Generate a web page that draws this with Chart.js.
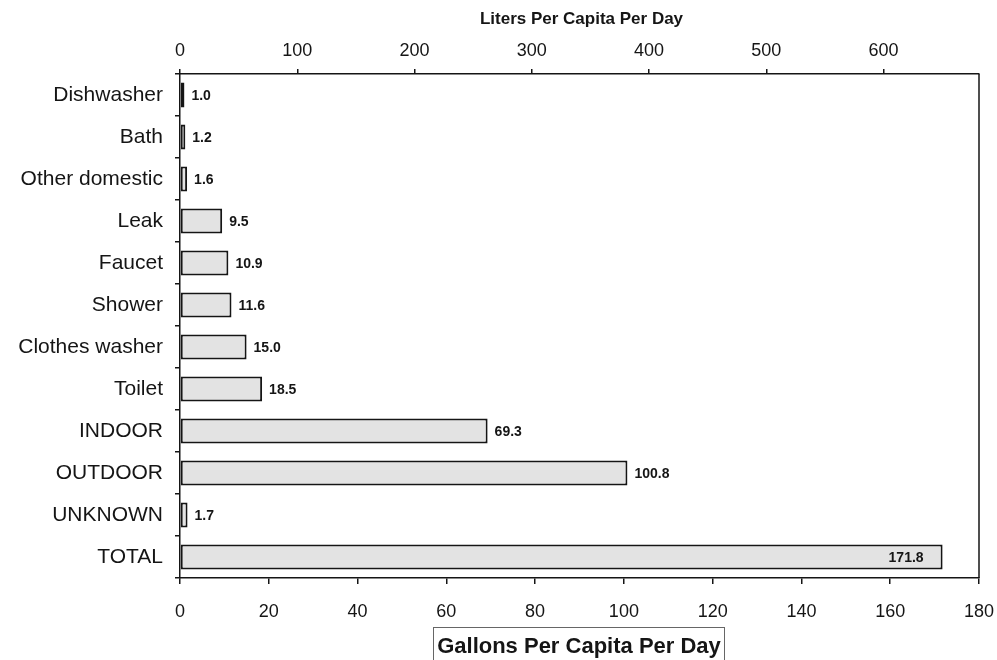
<!DOCTYPE html>
<html>
<head>
<meta charset="utf-8">
<script src="https://cdn.jsdelivr.net/npm/chart.js@4/dist/chart.umd.min.js"></script>
<style>
  html, body { margin: 0; padding: 0; background: #fff; }
  #wrap { width: 997px; height: 660px; }
</style>
</head>
<body>
<div id="wrap"><canvas id="chart" width="997" height="660"></canvas></div>
<script>
const categories = ['Dishwasher', 'Bath', 'Other domestic', 'Leak', 'Faucet', 'Shower',
  'Clothes washer', 'Toilet', 'INDOOR', 'OUTDOOR', 'UNKNOWN', 'TOTAL'];
const gallons = [1.0, 1.2, 1.6, 9.5, 10.9, 11.6, 15.0, 18.5, 69.3, 100.8, 1.7, 171.8];
const gallonMax = 180;
const litersPerGallon = 3.78541;

const FONT = '"Liberation Sans", Arial, sans-serif';
const INK = '#151515';

// value labels next to each bar, last one (TOTAL) goes inside the bar
const valueLabels = {
  id: 'valueLabels',
  afterDatasetsDraw(chart) {
    const ctx = chart.ctx;
    const meta = chart.getDatasetMeta(0);
    ctx.save();
    ctx.font = 'bold 14px ' + FONT;
    ctx.fillStyle = INK;
    ctx.textBaseline = 'middle';
    meta.data.forEach((bar, i) => {
      const txt = gallons[i].toFixed(1);
      if (i === gallons.length - 1) {
        ctx.textAlign = 'right';
        ctx.fillText(txt, bar.x - 19, bar.y + 1);
      } else {
        ctx.textAlign = 'left';
        ctx.fillText(txt, bar.x + 7, bar.y + 1);
      }
    });
    ctx.restore();
  }
};

// right frame line, top title, boxed bottom title
const frame = {
  id: 'frame',
  afterDraw(chart) {
    const ctx = chart.ctx;
    const a = chart.chartArea;
    const cx = (a.left + a.right) / 2;
    ctx.save();
    ctx.strokeStyle = INK;
    ctx.lineWidth = 1.5;
    ctx.beginPath();
    ctx.moveTo(a.right, a.top);
    ctx.lineTo(a.right, a.bottom);
    ctx.stroke();

    ctx.fillStyle = INK;
    ctx.textAlign = 'center';
    ctx.textBaseline = 'middle';
    ctx.font = 'bold 17px ' + FONT;
    ctx.fillText('Liters Per Capita Per Day', cx + 2, 19);

    ctx.strokeStyle = '#666';
    ctx.lineWidth = 1;
    ctx.strokeRect(433.5, 627.5, 291, 40);
    ctx.font = 'bold 22px ' + FONT;
    ctx.fillText('Gallons Per Capita Per Day', 579, 647);
    ctx.restore();
  }
};

new Chart(document.getElementById('chart'), {
  type: 'bar',
  data: {
    labels: categories,
    datasets: [{
      data: gallons,
      xAxisID: 'x',
      backgroundColor: '#e3e3e3',
      borderColor: INK,
      borderWidth: 2,
      borderSkipped: false,
      barPercentage: 0.6,
      categoryPercentage: 1.0
    }]
  },
  options: {
    indexAxis: 'y',
    responsive: false,
    animation: false,
    layout: { padding: { top: 0, right: 18, bottom: 0, left: 0 } },
    plugins: { legend: { display: false }, tooltip: { enabled: false } },
    scales: {
      y: {
        type: 'category',
        position: 'left',
        afterFit(s) { s.width = 180; s.paddingTop = 0; s.paddingBottom = 0; },
        grid: { display: true, drawOnChartArea: false, tickLength: 5, color: INK, lineWidth: 1.5 },
        border: { display: true, color: INK, width: 1.5 },
        ticks: { font: { family: FONT, size: 21 }, color: INK, padding: 12 }
      },
      x: {
        type: 'linear',
        position: 'bottom',
        min: 0,
        max: gallonMax,
        afterFit(s) { s.height = 82; s.paddingLeft = 0; s.paddingRight = 0; },
        grid: { display: true, drawOnChartArea: false, tickLength: 6, color: INK, lineWidth: 1.5 },
        border: { display: true, color: INK, width: 1.5 },
        ticks: { stepSize: 20, font: { family: FONT, size: 18 }, color: INK, padding: 17 }
      },
      x2: {
        type: 'linear',
        position: 'top',
        min: 0,
        max: gallonMax * litersPerGallon,
        afterFit(s) { s.height = 74; s.paddingLeft = 0; s.paddingRight = 0; },
        grid: { display: true, drawOnChartArea: false, tickLength: 5, color: INK, lineWidth: 1.5 },
        border: { display: true, color: INK, width: 1.5 },
        ticks: { stepSize: 100, includeBounds: false, font: { family: FONT, size: 18 }, color: INK, padding: 7 }
      }
    }
  },
  plugins: [valueLabels, frame]
});
</script>
</body>
</html>
